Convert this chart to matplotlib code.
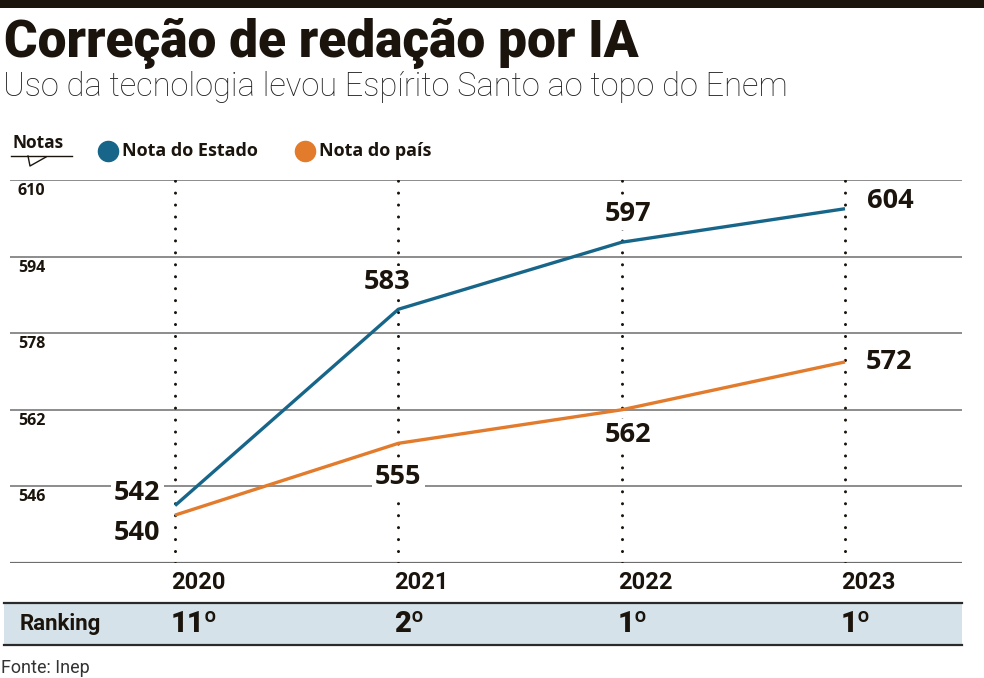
import matplotlib
matplotlib.use("Agg")
import matplotlib.pyplot as plt
from matplotlib.patches import Rectangle
from matplotlib.lines import Line2D

# dados
years = ["2020", "2021", "2022", "2023"]
nota_estado = [542, 583, 597, 604]
nota_pais = [540, 555, 562, 572]
ranking = ["11º", "2º", "1º", "1º"]
y_ticks = [546, 562, 578, 594, 610]

BLUE = "#17668a"
ORANGE = "#e27b2c"
INK = "#1a140c"
GRID = "#6e6e6e"

W, H = 984, 678
NARROW = ["Roboto", "DejaVu Sans"]
SANS = ["Open Sans", "DejaVu Sans"]

fig = plt.figure(figsize=(W / 100, H / 100), dpi=100)


def fx(px):
    return px / W


def fy(py):
    return 1 - py / H


# barra preta do topo
fig.add_artist(Rectangle((0, fy(8)), 1, 8 / H, transform=fig.transFigure,
                         color=INK, lw=0))

fig.text(fx(4), fy(57), "Correção de redação por IA", family=NARROW,
         weight=900, stretch="condensed", size=37, color=INK, va="baseline")
fig.text(fx(3), fy(96), "Uso da tecnologia levou Espírito Santo ao topo do Enem",
         family=NARROW, stretch="condensed", weight="light", size=23.5,
         color="#222222", va="baseline")

# legenda
fig.text(fx(12), fy(143), "Notas", family=SANS, weight="bold", size=12.5,
         color=INK, va="center")
fig.add_artist(Line2D([fx(11), fx(72)], [fy(156), fy(156)], color=INK, lw=1,
                      transform=fig.transFigure))
fig.add_artist(Line2D([fx(28), fx(30), fx(46)], [fy(156), fy(166), fy(157)],
                      color=INK, lw=1, transform=fig.transFigure))
for cx, col, lab in [(108, BLUE, "Nota do Estado"), (305, ORANGE, "Nota do país")]:
    fig.add_artist(Line2D([fx(cx)], [fy(151)], marker="o", markersize=14.5,
                          color=col, lw=0, transform=fig.transFigure))
    fig.text(fx(cx + 14), fy(151), lab, family=SANS, weight="bold", size=13,
             color=INK, va="center")

# area do grafico
ax = fig.add_axes([fx(10), fy(563), fx(962) - fx(10), fy(180) - fy(563)])
ax.set_xlim(-0.739, 3.524)
ax.set_ylim(530, 610)
ax.axis("off")

for v in y_ticks:
    ax.axhline(v, color=GRID, lw=1.1, zorder=1)
    ax.annotate(str(v), xy=(0, v), xycoords=("axes fraction", "data"),
                xytext=(8, -11), textcoords="offset pixels", ha="left", va="center",
                family=SANS, weight="bold", size=11.5, color=INK)
ax.axhline(530, color=GRID, lw=1.6, zorder=1)

xs = list(range(len(years)))
ax.vlines(xs, 530, 610, colors=INK, lw=2.2, linestyles=(0, (0.01, 3.9)),
          capstyle="round", zorder=2)

ax.plot(xs, nota_estado, color=BLUE, lw=2.4, zorder=4, solid_capstyle="butt")
ax.plot(xs, nota_pais, color=ORANGE, lw=2.4, zorder=4, solid_capstyle="butt")

off_estado = [(-38, 13), (-11, 27), (6, 28), (45, 8)]
off_pais = [(-38, -18), (0, -34), (6, -25), (44, 0)]
for vals, offs in [(nota_estado, off_estado), (nota_pais, off_pais)]:
    for x, v, (dx, dy) in zip(xs, vals, offs):
        ax.annotate(str(v), xy=(x, v), xytext=(dx, dy),
                    textcoords="offset pixels", ha="center", va="center",
                    family=SANS, weight="bold", size=19.5, color=INK, zorder=3,
                    bbox=dict(boxstyle="square,pad=0.12", fc="white", ec="none"))

# anos e ranking
for x, yr, rk in zip(xs, years, ranking):
    ax.annotate(yr, xy=(x, 530), xytext=(-4, -20), textcoords="offset pixels",
                ha="left", va="center", family=NARROW, stretch="condensed",
                weight="bold", size=17, color=INK)
    ax.annotate(rk, xy=(x, 530), xytext=(-4, -61), textcoords="offset pixels",
                ha="left", va="center", family=NARROW, stretch="condensed",
                weight=900, size=21, color=INK, zorder=6)

fig.add_artist(Rectangle((fx(4), fy(645)), fx(962) - fx(4), (645 - 603) / H,
                         transform=fig.transFigure, fc="#d5e2ea", ec="none", zorder=0))
for yy in (603, 645):
    fig.add_artist(Line2D([fx(4), fx(962)], [fy(yy), fy(yy)], color="#2a2a2a", lw=1.6,
                          transform=fig.transFigure))
fig.text(fx(20), fy(624), "Ranking", family=NARROW, stretch="condensed",
         weight="bold", size=16, color=INK, va="center")

fig.text(fx(1), fy(668), "Fonte: Inep", family=NARROW, stretch="condensed",
         size=13, color="#333333", va="center")

fig.savefig("out.png", dpi=100)
